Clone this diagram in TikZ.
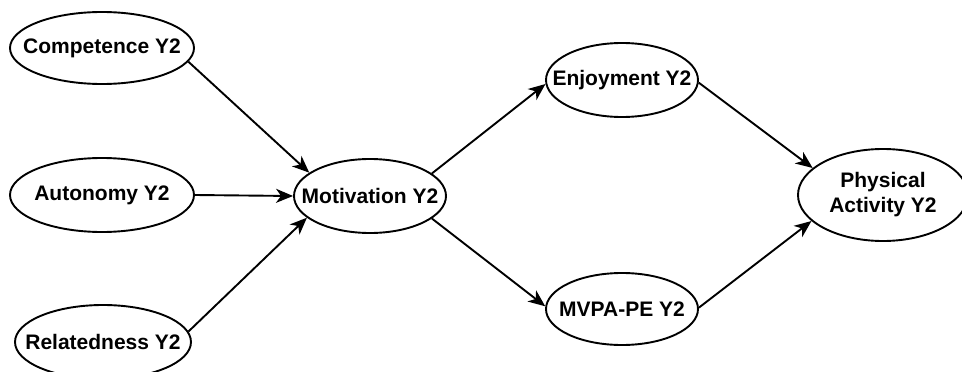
\documentclass[tikz,border=0pt]{standalone}
\usepackage{fontspec}
\setmainfont{Liberation Sans}
\usetikzlibrary{shapes.geometric,arrows.meta}
\begin{document}
\begin{tikzpicture}[x=1pt,y=-1pt,
  var/.style={draw,ellipse,line width=1.9pt,inner sep=0pt},
  every label/.style={font=\fontsize{21}{25}\selectfont\bfseries,align=center,inner sep=0pt},
  conn/.style={line width=1.9pt,-{Stealth[length=17pt,width=14pt,inset=5pt]}}]
\useasboundingbox (0,0) rectangle (962,372);
\node[var,minimum width=184pt,minimum height=72pt,label=center:{Competence Y2}] (comp) at (102,48) {};
\node[var,minimum width=184pt,minimum height=74pt,label=center:{Autonomy Y2}] (aut) at (102,195) {};
\node[var,minimum width=176pt,minimum height=74pt,label=center:{Relatedness Y2}] (rel) at (103,342) {};
\node[var,minimum width=152pt,minimum height=74pt,label=center:{Motivation Y2}] (mot) at (370,196) {};
\node[var,minimum width=152pt,minimum height=74pt,label=center:{Enjoyment Y2}] (enj) at (622,80) {};
\node[var,minimum width=152pt,minimum height=72pt,label=center:{MVPA-PE Y2}] (mvpa) at (622,309) {};
\node[var,minimum width=170pt,minimum height=92pt,label=center:{Physical\\Activity Y2}] (pa) at (883,195) {};
\draw[conn] (comp.-9) -- (mot.159.6);
\draw[conn] (aut.0) -- (mot.180);
\draw[conn] (rel.7) -- (mot.199.2);
\draw[conn] (mot.20.9) -- (enj.183.8);
\draw[conn] (mot.-20.9) -- (mvpa.178.5);
\draw[conn] (enj.-2) -- (pa.159.6);
\draw[conn] (mvpa.1) -- (pa.200.8);
\end{tikzpicture}
\end{document}
